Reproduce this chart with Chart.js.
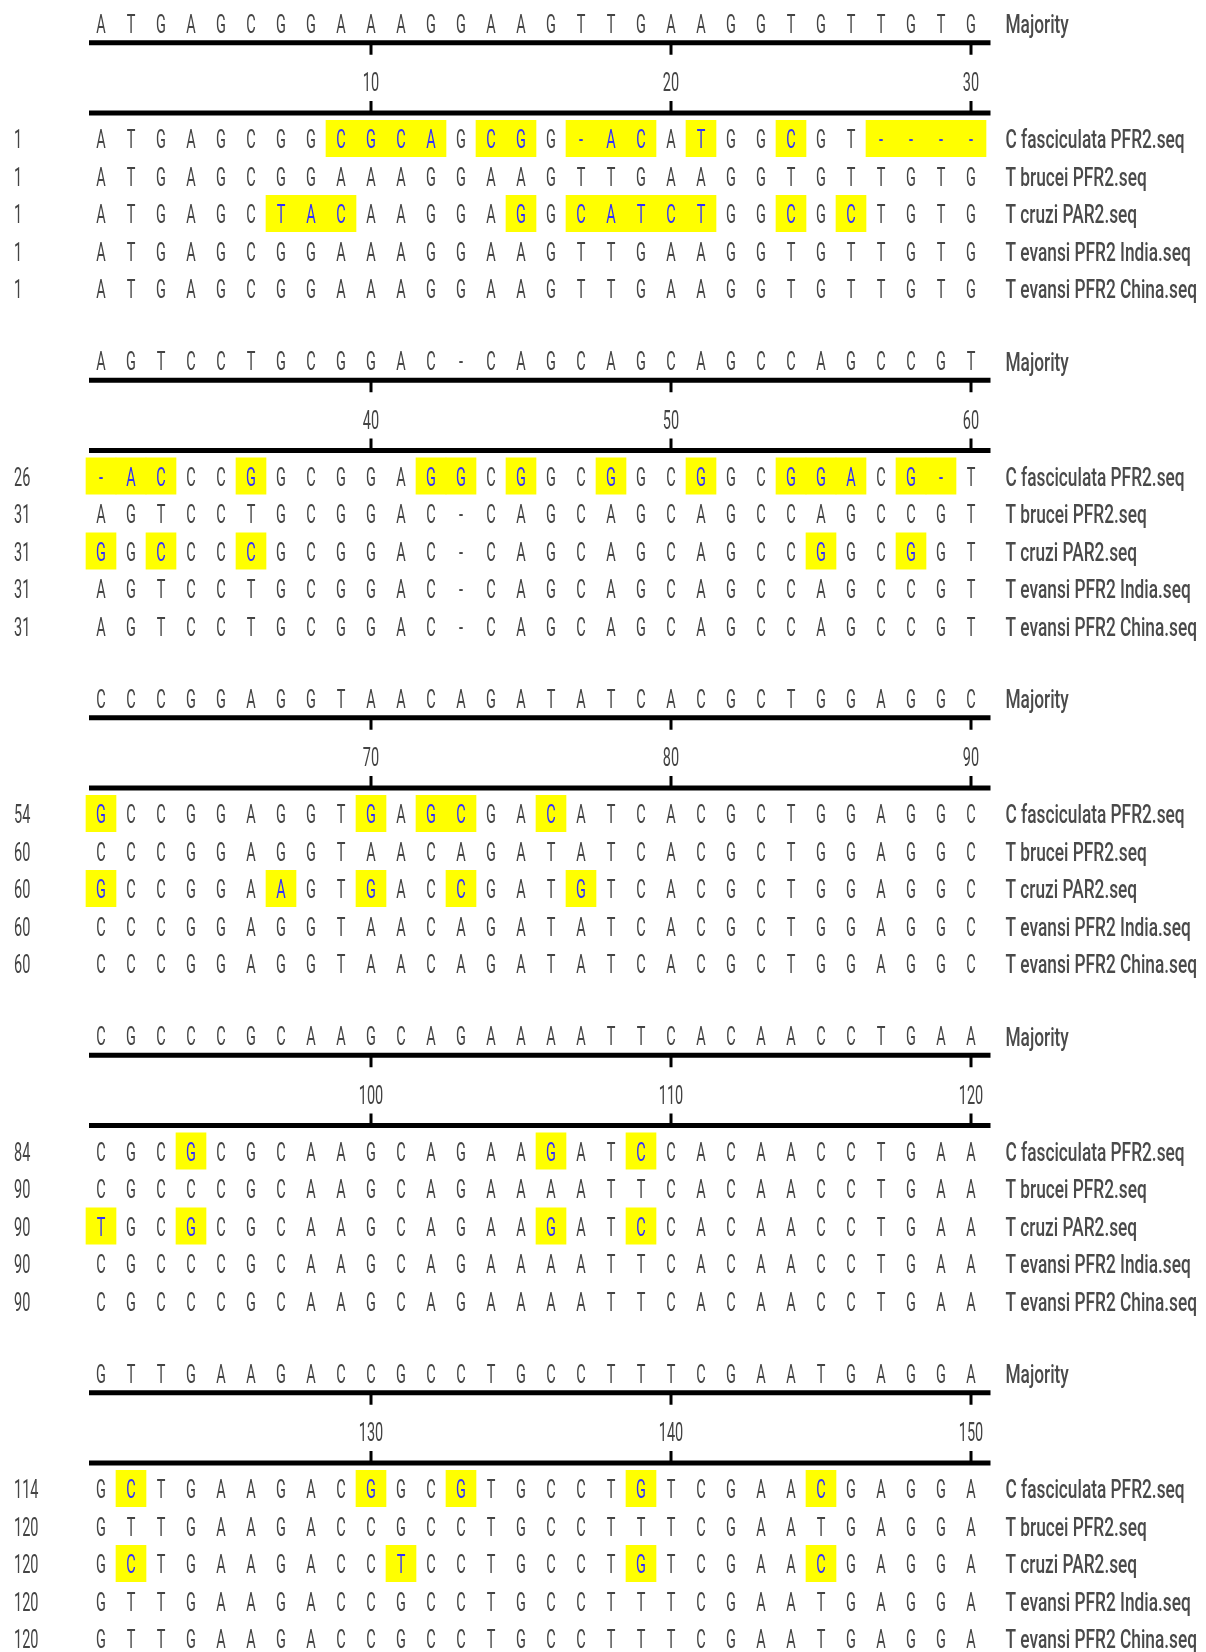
<!DOCTYPE html>
<html>
<head>
<meta charset="utf-8">
<title>PFR2 alignment</title>
<script src="https://cdn.jsdelivr.net/npm/chart.js@4/dist/chart.umd.min.js"></script>
<style>
  html, body { margin: 0; padding: 0; background: #fff; }
  #wrap { width: 1206px; height: 1652px; }
</style>
</head>
<body>
<div id="wrap"><canvas id="align" width="1206" height="1652"></canvas></div>
<script>
/***** ***** data ***** *****/
var seqNames = ["C fasciculata PFR2.seq", "T brucei PFR2.seq", "T cruzi PAR2.seq", "T evansi PFR2 India.seq", "T evansi PFR2 China.seq"];

var majority = [
    "ATGAGCGGAAAGGAAGTTGAAGGTGTTGTG",
    "AGTCCTGCGGAC-CAGCAGCAGCCAGCCGT",
    "CCCGGAGGTAACAGATATCACGCTGGAGGC",
    "CGCCCGCAAGCAGAAAATTCACAACCTGAA",
    "GTTGAAGACCGCCTGCCTTTCGAATGAGGA"
];
var cFasciculata = [
    "ATGAGCGGCGCAGCGG-ACATGGCGT----",
    "-ACCCGGCGGAGGCGGCGGCGGCGGACG-T",
    "GCCGGAGGTGAGCGACATCACGCTGGAGGC",
    "CGCGCGCAAGCAGAAGATCCACAACCTGAA",
    "GCTGAAGACGGCGTGCCTGTCGAACGAGGA"
];
var tBrucei = [
    "ATGAGCGGAAAGGAAGTTGAAGGTGTTGTG",
    "AGTCCTGCGGAC-CAGCAGCAGCCAGCCGT",
    "CCCGGAGGTAACAGATATCACGCTGGAGGC",
    "CGCCCGCAAGCAGAAAATTCACAACCTGAA",
    "GTTGAAGACCGCCTGCCTTTCGAATGAGGA"
];
var tCruzi = [
    "ATGAGCTACAAGGAGGCATCTGGCGCTGTG",
    "GGCCCCGCGGAC-CAGCAGCAGCCGGCGGT",
    "GCCGGAAGTGACCGATGTCACGCTGGAGGC",
    "TGCGCGCAAGCAGAAGATCCACAACCTGAA",
    "GCTGAAGACCTCCTGCCTGTCGAACGAGGA"
];
var tEvansiIndia = [
    "ATGAGCGGAAAGGAAGTTGAAGGTGTTGTG",
    "AGTCCTGCGGAC-CAGCAGCAGCCAGCCGT",
    "CCCGGAGGTAACAGATATCACGCTGGAGGC",
    "CGCCCGCAAGCAGAAAATTCACAACCTGAA",
    "GTTGAAGACCGCCTGCCTTTCGAATGAGGA"
];
var tEvansiChina = [
    "ATGAGCGGAAAGGAAGTTGAAGGTGTTGTG",
    "AGTCCTGCGGAC-CAGCAGCAGCCAGCCGT",
    "CCCGGAGGTAACAGATATCACGCTGGAGGC",
    "CGCCCGCAAGCAGAAAATTCACAACCTGAA",
    "GTTGAAGACCGCCTGCCTTTCGAATGAGGA"
];
// first residue number of each row, one list per block
var rowStarts = [
    [1, 1, 1, 1, 1],
    [26, 31, 31, 31, 31],
    [54, 60, 60, 60, 60],
    [84, 90, 90, 90, 90],
    [114, 120, 120, 120, 120]
];
var rulerCols = [10, 20, 30];
var rulerLabels = [
    ["10", "20", "30"],
    ["40", "50", "60"],
    ["70", "80", "90"],
    ["100", "110", "120"],
    ["130", "140", "150"]
];
/***** ***** !data ***** *****/

var sequences = [cFasciculata, tBrucei, tCruzi, tEvansiIndia, tEvansiChina];

// layout in scale units (x: one column, y: one row)
var BLOCK_STEP = 9;
var Y_MAJ = 0, Y_TOPLINE = 0.5, Y_NUM = 1.55, Y_BOTLINE = 2.37, Y_ROW0 = 3.07;
var X_RULE_FROM = 0.6, X_RULE_TO = 30.65, X_START = -1.9, X_NAME = 31.15;
var TICK_LEN = 0.32;

var highlightPts = [], letterPts = [], startPts = [], namePts = [], numPts = [];
var rulePts = [], tickPts = [];

for (var b = 0; b < majority.length; b++) {
    var base = b * BLOCK_STEP;
    for (var c = 0; c < majority[b].length; c++) {
        letterPts.push({ x: c + 1, y: base + Y_MAJ, t: majority[b][c], hl: false });
    }
    namePts.push({ x: X_NAME, y: base + Y_MAJ, t: "Majority" });

    rulePts.push({ x: X_RULE_FROM, y: base + Y_TOPLINE }, { x: X_RULE_TO, y: base + Y_TOPLINE }, { x: X_RULE_TO, y: null });
    rulePts.push({ x: X_RULE_FROM, y: base + Y_BOTLINE }, { x: X_RULE_TO, y: base + Y_BOTLINE }, { x: X_RULE_TO, y: null });

    for (var k = 0; k < rulerCols.length; k++) {
        var col = rulerCols[k];
        tickPts.push({ x: col, y: base + Y_TOPLINE }, { x: col, y: base + Y_TOPLINE + TICK_LEN }, { x: col, y: null });
        tickPts.push({ x: col, y: base + Y_BOTLINE }, { x: col, y: base + Y_BOTLINE - TICK_LEN }, { x: col, y: null });
        numPts.push({ x: col, y: base + Y_NUM, t: rulerLabels[b][k] });
    }

    for (var s = 0; s < sequences.length; s++) {
        var rowY = base + Y_ROW0 + s;
        var seq = sequences[s][b];
        for (var c = 0; c < seq.length; c++) {
            var diff = seq[c] !== majority[b][c];
            if (diff) {
                highlightPts.push({ x: c + 1, y: [rowY - 0.5, rowY + 0.47] });
            }
            letterPts.push({ x: c + 1, y: rowY, t: seq[c], hl: diff });
        }
        startPts.push({ x: X_START, y: rowY, t: String(rowStarts[b][s]) });
        namePts.push({ x: X_NAME, y: rowY, t: seqNames[s] });
    }
}

// draws the text attached to points of datasets that carry a textSize
var textLayer = {
    id: 'textLayer',
    afterDatasetsDraw: function(chart) {
        var ctx = chart.ctx;
        chart.data.datasets.forEach(function(ds, i) {
            if (!ds.textSize) return;
            var meta = chart.getDatasetMeta(i);
            var dy = ds.textSize * 0.356; // half the cap height, so caps sit centred on the point
            ctx.save();
            ctx.font = (ds.textWeight || 400) + ' ' + ds.textSize + "px Roboto, 'DejaVu Sans', sans-serif";
            ctx.textAlign = ds.textAlign;
            ctx.textBaseline = 'alphabetic';
            meta.data.forEach(function(el, j) {
                var d = ds.data[j];
                ctx.save();
                ctx.translate(el.x, el.y + dy);
                ctx.scale(ds.textSquash, 1);
                ctx.fillStyle = d.hl ? ds.hlColor : ds.textColor;
                ctx.fillText(d.t, 0, 0);
                ctx.restore();
            });
            ctx.restore();
        });
    }
};

var PX_PER_COL = 30, PX_PER_ROW = 37.5;
var xMin = 1 - 101 / PX_PER_COL;
var yMin = -24 / PX_PER_ROW;

new Chart(document.getElementById('align'), {
    type: 'scatter',
    data: {
        datasets: [
            {
                type: 'bar',
                data: highlightPts,
                backgroundColor: '#ffff00',
                barPercentage: 1,
                categoryPercentage: 1,
                order: 3
            },
            {
                type: 'line',
                data: rulePts,
                borderColor: '#000',
                borderWidth: 5,
                pointRadius: 0,
                spanGaps: false,
                order: 2
            },
            {
                type: 'line',
                data: tickPts,
                borderColor: '#000',
                borderWidth: 3,
                pointRadius: 0,
                spanGaps: false,
                order: 2
            },
            {
                data: letterPts, pointRadius: 0,
                textSize: 25, textAlign: 'center', textSquash: 0.58,
                textColor: '#444444', hlColor: '#3030ff'
            },
            {
                data: startPts, pointRadius: 0,
                textSize: 25, textAlign: 'left', textSquash: 0.58,
                textColor: '#444444'
            },
            {
                data: numPts, pointRadius: 0,
                textSize: 25, textAlign: 'center', textSquash: 0.58,
                textColor: '#444444'
            },
            {
                data: namePts, pointRadius: 0,
                textSize: 26, textWeight: 500, textAlign: 'left', textSquash: 0.665,
                textColor: '#4a4a4a'
            }
        ]
    },
    options: {
        responsive: false,
        animation: false,
        devicePixelRatio: 1,
        layout: { padding: 0 },
        plugins: { legend: { display: false }, tooltip: { enabled: false } },
        scales: {
            x: {
                type: 'linear', display: false, offset: false,
                min: xMin, max: xMin + 1206 / PX_PER_COL,
                ticks: { stepSize: 1 }
            },
            y: {
                type: 'linear', display: false, reverse: true,
                min: yMin, max: yMin + 1652 / PX_PER_ROW
            }
        }
    },
    plugins: [textLayer]
});
</script>
</body>
</html>
